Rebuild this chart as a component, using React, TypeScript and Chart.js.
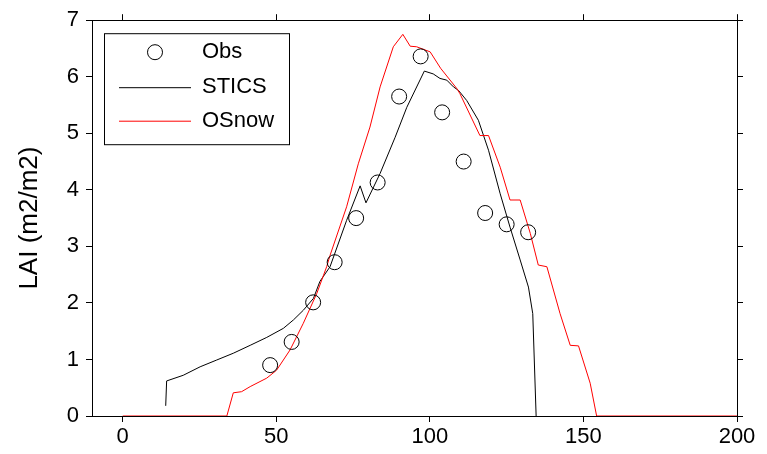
import React, { useEffect, useRef } from "react";
import { Chart, registerables } from "chart.js";

Chart.register(...registerables);

const obsDays = [48, 55, 62, 69, 76, 83, 90, 97, 104, 111, 118, 125, 132];
const obsLAI = [0.9, 1.31, 2.01, 2.72, 3.5, 4.13, 5.65, 6.36, 5.37, 4.5, 3.59, 3.39, 3.25];

const sticsDays = [14, 14.3, 19.7, 25.2, 30.6, 36, 41.5, 46.9, 52.3, 55.6, 58.8, 62.1, 64.2, 67.5, 72.9, 77.3, 79.2, 83.8, 88.7, 92.5, 98.2, 101.1, 103.3, 105.5, 107.7, 109.3, 112, 115.8, 119.1, 122.9, 126.1, 129.4, 132.1, 133.5, 134.6];
const sticsLAI = [0.18, 0.62, 0.72, 0.87, 0.99, 1.11, 1.25, 1.39, 1.55, 1.7, 1.87, 2.08, 2.38, 2.64, 3.46, 4.07, 3.77, 4.29, 4.93, 5.46, 6.1, 6.05, 5.97, 5.94, 5.82, 5.76, 5.58, 5.23, 4.7, 3.93, 3.34, 2.76, 2.28, 1.81, 0];

const osnowDays = [0, 33.9, 36, 38.7, 41.5, 46.9, 50.1, 54.5, 58.8, 63.2, 66.4, 67.5, 72.9, 76.7, 80.5, 83.8, 88.1, 91.2, 93.6, 95.7, 100.1, 103.5, 108.8, 109.8, 116.3, 119.1, 122.9, 126.1, 129.4, 132.7, 135.3, 138.1, 142.4, 145.7, 148.4, 152.2, 154.3, 200];
const osnowLAI = [0, 0, 0.41, 0.43, 0.52, 0.67, 0.81, 1.17, 1.64, 2.17, 2.64, 2.84, 3.7, 4.46, 5.11, 5.82, 6.53, 6.75, 6.54, 6.53, 6.44, 6.15, 5.79, 5.7, 4.96, 4.96, 4.4, 3.82, 3.82, 3.23, 2.67, 2.64, 1.81, 1.25, 1.24, 0.58, 0, 0];

const xTicks = [0, 50, 100, 150, 200];
const yTicks = [0, 1, 2, 3, 4, 5, 6, 7];

const FONT = "'Liberation Sans', Arial, Helvetica, sans-serif";

const legendBoxPlugin = {
  id: "legendBox",
  afterDraw(chart: any) {
    const ctx = chart.ctx;
    const ca = chart.chartArea;
    const left = ca.left + 12;
    const top = ca.top + 13;
    const w = 185;
    const h = 111;
    ctx.save();
    ctx.fillStyle = "#ffffff";
    ctx.fillRect(left, top, w, h);
    ctx.strokeStyle = "#000000";
    ctx.lineWidth = 1;
    ctx.strokeRect(left + 0.5, top + 0.5, w, h);
    const rows = [19, 54, 87.5];
    chart.data.datasets.forEach((ds: any, i: number) => {
      const cy = top + rows[i];
      ctx.strokeStyle = ds.borderColor;
      ctx.lineWidth = 1;
      if (ds.showLine === false) {
        ctx.beginPath();
        ctx.arc(left + 51, cy, 7.5, 0, Math.PI * 2);
        ctx.stroke();
      } else {
        ctx.beginPath();
        ctx.moveTo(left + 15, cy + 0.5);
        ctx.lineTo(left + 87, cy + 0.5);
        ctx.stroke();
      }
      ctx.fillStyle = "#000000";
      ctx.font = `22px ${FONT}`;
      ctx.textAlign = "left";
      ctx.textBaseline = "middle";
      ctx.fillText(ds.label, left + 98, cy);
    });
    ctx.restore();
  },
};

export default function App() {
  const ref = useRef<HTMLCanvasElement | null>(null);
  useEffect(() => {
    if (!ref.current) return;
    const fixTicksX = (s: any) => {
      s.ticks = xTicks.map((v) => ({ value: v }));
    };
    const fixTicksY = (s: any) => {
      s.ticks = yTicks.map((v) => ({ value: v }));
    };
    const chart = new Chart(ref.current, {
      type: "scatter",
      data: {
        datasets: [
          {
            label: "Obs",
            data: obsDays.map((d, i) => ({ x: d, y: obsLAI[i] })),
            showLine: false,
            borderColor: "#000000",
            backgroundColor: "rgba(0,0,0,0)",
            pointRadius: 7.5,
            pointBorderWidth: 1,
            order: 0,
          },
          {
            label: "STICS",
            data: sticsDays.map((d, i) => ({ x: d, y: sticsLAI[i] })),
            showLine: true,
            borderColor: "#000000",
            borderWidth: 1,
            pointRadius: 0,
            fill: false,
            order: 2,
          },
          {
            label: "OSnow",
            data: osnowDays.map((d, i) => ({ x: d, y: osnowLAI[i] })),
            showLine: true,
            borderColor: "#ff0000",
            borderWidth: 1,
            pointRadius: 0,
            fill: false,
            order: 1,
          },
        ],
      },
      options: {
        responsive: false,
        animation: false,
        layout: { padding: 0 },
        plugins: {
          legend: { display: false },
          tooltip: { enabled: false },
        },
        scales: {
          x: {
            type: "linear",
            position: "bottom",
            min: -10,
            max: 200,
            afterBuildTicks: fixTicksX,
            afterFit: (s: any) => {
              s.height = 38;
            },
            grid: { drawOnChartArea: false, tickLength: 6, color: "#000000" },
            border: { color: "#000000", width: 1 },
            ticks: {
              color: "#000000",
              font: { family: FONT, size: 22 },
              padding: 2,
              maxRotation: 0,
            },
          },
          x2: {
            type: "linear",
            position: "top",
            min: -10,
            max: 200,
            afterBuildTicks: fixTicksX,
            afterFit: (s: any) => {
              s.height = 20;
            },
            grid: { drawOnChartArea: false, tickLength: 6, color: "#000000" },
            border: { color: "#000000", width: 1 },
            ticks: { display: false },
          },
          y: {
            type: "linear",
            position: "left",
            min: 0,
            max: 7,
            afterBuildTicks: fixTicksY,
            afterFit: (s: any) => {
              s.width = 92;
            },
            grid: { drawOnChartArea: false, tickLength: 6, color: "#000000" },
            border: { color: "#000000", width: 1 },
            ticks: {
              color: "#000000",
              font: { family: FONT, size: 22 },
              padding: 7,
            },
            title: {
              display: true,
              text: "LAI (m2/m2)",
              color: "#000000",
              font: { family: FONT, size: 26 },
              padding: { top: 14, bottom: 0 },
            },
          },
          y2: {
            type: "linear",
            position: "right",
            min: 0,
            max: 7,
            afterBuildTicks: fixTicksY,
            afterFit: (s: any) => {
              s.width = 30;
            },
            grid: { drawOnChartArea: false, tickLength: 6, color: "#000000" },
            border: { color: "#000000", width: 1 },
            ticks: { display: false },
          },
        },
      },
      plugins: [legendBoxPlugin],
    });
    return () => chart.destroy();
  }, []);
  return (
    <div style={{ position: "absolute", left: 0, top: 0, width: 767, height: 454, background: "#fff" }}>
      <canvas ref={ref} width={767} height={454} />
    </div>
  );
}
